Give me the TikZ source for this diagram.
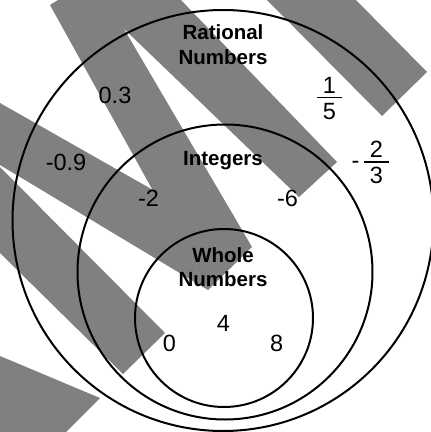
\documentclass[tikz,border=0pt]{standalone}
\usepackage{fontspec}
\setmainfont{Liberation Sans}

\begin{document}
\begin{tikzpicture}[x=1pt, y=-1pt, line width=2pt,
  band/.style={fill=gray, draw=none},
  title/.style={font=\bfseries\fontsize{20.5}{24.5}\selectfont, align=center, anchor=base, inner sep=0pt},
  num/.style={font=\fontsize{23.5}{27}\selectfont, anchor=base, inner sep=0pt},
  bar/.style={line width=1.6pt}]
  \useasboundingbox (0,0) rectangle (431,432);
  \coordinate (Q) at (223,220.5);
  \coordinate (Z) at (225,272);
  \coordinate (W) at (224,318);
  \fill[band] (50,5) -- (58,0) -- (107,0) -- (252,247) -- (208,290) -- cycle;
  \fill[band] (94,0) -- (181,0) -- (337,162) -- (299,197) -- cycle;
  \fill[band] (267,0) -- (356,0) -- (427,72) -- (382,116) -- cycle;
  \fill[band] (0,103) -- (153,190) -- (208,290) -- (0,165) -- cycle;
  \fill[band] (0,167) -- (165,333) -- (123,374) -- (0,253) -- cycle;
  \fill[band] (0,356) -- (100,398) -- (66,432) -- (0,432) -- cycle;
  \draw (Q) circle (210.5pt);
  \draw (Z) circle (147.5pt);
  \draw (W) circle (89pt);
  \node[title] (rat) at (223,64) {Rational\\Numbers};
  \node[title] (int) at (223,165) {Integers};
  \node[title] (whl) at (223,286.5) {Whole\\Numbers};
  \node[num] (n03) at (115,103.3) {0.3};
  \node[num] (n09) at (66,170.7) {-0.9};
  \node[num] (n2) at (148.5,206.7) {-2};
  \node[num] (n6) at (287.5,206.7) {-6};
  \node[num] (n4) at (223.5,331) {4};
  \node[num] (n0) at (169.5,351.7) {0};
  \node[num] (n8) at (276.7,351.7) {8};
  \node[num] (fa1) at (329.5,93.3) {1};
  \node[num] (fa5) at (329.5,119.3) {5};
  \draw[bar] (317,97.5) -- (342,97.5);
  \node[num] (fbm) at (355.5,168.3) {-};
  \node[num] (fb2) at (376.5,157.3) {2};
  \node[num] (fb3) at (376.5,183.3) {3};
  \draw[bar] (364,161.7) -- (389,161.7);
\end{tikzpicture}
\end{document}
